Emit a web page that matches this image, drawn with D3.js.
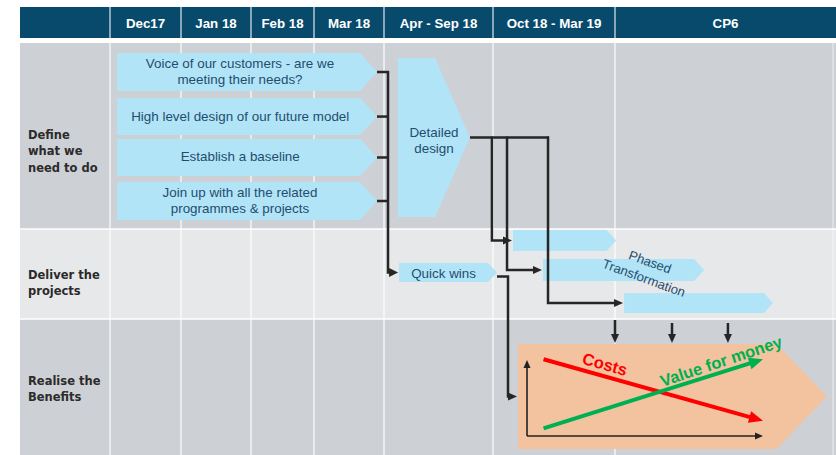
<!DOCTYPE html>
<html><head><meta charset="utf-8">
<script src="https://cdn.jsdelivr.net/npm/d3@7"></script>
<style>body{margin:0;background:#fff}svg{display:block}</style>
</head><body><svg id="c" width="836" height="455"></svg>
<script>
// ---------- data ----------
const columns = ["Dec17", "Jan 18", "Feb 18", "Mar 18", "Apr - Sep 18", "Oct 18 - Mar 19", "CP6"];
const rowLabels = [["Define", "what we", "need to do"], ["Deliver the", "projects"], ["Realise the", "Benefits"]];
// tasks in column units (x) and row units (y)
const defineTasks = [
  {lines: ["Voice of our customers - are we", "meeting their needs?"], start: 0.1, end: 3.9, top: 0.054, bottom: 0.258},
  {lines: ["High level design of our future model"], start: 0.1, end: 3.9, top: 0.296, bottom: 0.495},
  {lines: ["Establish a baseline"], start: 0.1, end: 3.9, top: 0.516, bottom: 0.715},
  {lines: ["Join up with all the related", "programmes & projects"], start: 0.1, end: 3.9, top: 0.747, bottom: 0.952}
];
const designTask = {lines: ["Detailed", "design"], start: 4.128, end: 4.789, top: 0.081, bottom: 0.935};
const quickWins = {lines: ["Quick wins"], start: 4.138, end: 5.033, top: 1.378, bottom: 1.589};
const phasedBars = [
  {start: 5.164, end: 6.005, top: 1.011, bottom: 1.244},
  {start: 5.41, end: 6.403, top: 1.333, bottom: 1.578},
  {start: 6.041, end: 6.715, top: 1.711, bottom: 1.933}
];
const phasedLabel = ["Phased", "Transformation"];
const designBranches = [4.99, 5.115, 5.451];
const quickWinBranch = 5.123;
const benefits = {start: 5.205, end: 6.959, top: 2.184, bottom: 2.956};
const benefitFeeds = [6.0, 6.258, 6.511];
const costsTrend = [[0.7, 10.1], [10, 2.0]];
const valueTrend = [[0.7, 1.0], [10, 10.1]];
const trendLabels = ["Costs", "Value for money"];

// ---------- scales ----------
const W = 836, H = 455;
const svg = d3.select("#c");
const x = d3.scaleLinear().domain(d3.range(columns.length + 1)).range([110, 181, 251, 314, 384, 493, 615, 836]);
const y = d3.scaleLinear().domain([0, 1, 2, 3]).range([43, 229, 319, 455]);
const left = 20;
const headTop = 7, headBot = 38;

const C = {
  head: "#084a6c", row1: "#cdd0d4", row2: "#e7e8ea", row3: "#cdd0d4",
  blue: "#b2e4f8", orange: "#f3c3a0", text: "#1f4d6d", line: "#262626",
  red: "#ff0000", green: "#00b050"
};
const boxFont = "'Liberation Sans', Arial, sans-serif";

// header
svg.append("rect").attr("x", left).attr("y", headTop).attr("width", W - left).attr("height", headBot - headTop).attr("fill", C.head);
svg.selectAll("line.hdiv").data(d3.range(columns.length)).join("line")
  .attr("x1", d => x(d)).attr("x2", d => x(d)).attr("y1", headTop).attr("y2", headBot)
  .attr("stroke", "#dfe8ee").attr("stroke-width", 1.2);
svg.selectAll("text.hd").data(columns).join("text")
  .attr("x", (d, i) => (x(i) + x(i + 1)) / 2).attr("y", (headTop + headBot) / 2 + 1)
  .attr("text-anchor", "middle").attr("dominant-baseline", "central")
  .attr("fill", "#fff").attr("font-family", boxFont).attr("font-weight", "bold").attr("font-size", 13.3)
  .text(d => d);

// rows
const rowColors = [C.row1, C.row2, C.row3];
rowLabels.forEach((lab, i) => {
  svg.append("rect").attr("x", left).attr("y", y(i)).attr("width", W - left).attr("height", y(i + 1) - y(i)).attr("fill", rowColors[i]);
});
// grid lines
svg.selectAll("line.vdiv").data(d3.range(columns.length)).join("line")
  .attr("x1", d => x(d)).attr("x2", d => x(d)).attr("y1", y(0)).attr("y2", H)
  .attr("stroke", "#fff").attr("stroke-width", 1.3).attr("opacity", 0.9);
svg.append("line").attr("x1", 833).attr("x2", 833).attr("y1", y(0)).attr("y2", H).attr("stroke", "#fff").attr("stroke-width", 1).attr("opacity", 0.7);
[1, 2].forEach(i => svg.append("line").attr("x1", left).attr("x2", W).attr("y1", y(i)).attr("y2", y(i)).attr("stroke", "#fff").attr("stroke-width", 1.6));

// row labels
const labelShift = [15, 9, 2];
rowLabels.forEach((lab, i) => {
  const cy = (y(i) + y(i + 1)) / 2 + labelShift[i];
  const lh = 16.5;
  const t = svg.append("text").attr("font-family", "'DejaVu Sans', Verdana, sans-serif").attr("font-weight", "bold")
    .attr("font-size", 11.5).attr("fill", "#2b2b2b");
  lab.forEach((l, j) => {
    t.append("tspan").attr("x", 28).attr("y", cy + (j - (lab.length - 1) / 2) * lh).attr("dominant-baseline", "central").text(l);
  });
});

// pentagon helper
function pent(d, fill, tipRatio) {
  const x0 = x(d.start), x1 = x(d.end), y0 = y(d.top), y1 = y(d.bottom), ym = (y0 + y1) / 2;
  const tip = (y1 - y0) * tipRatio;
  const p = [[x0, y0], [x1 - tip, y0], [x1, ym], [x1 - tip, y1], [x0, y1]];
  svg.append("path").attr("d", "M" + p.map(q => q.join(",")).join("L") + "Z").attr("fill", fill);
  return {x0, x1, y0, y1, ym, tip};
}
function boxText(lines, cx, cy, size, lh) {
  const t = svg.append("text").attr("font-family", boxFont).attr("font-size", size).attr("fill", C.text).attr("text-anchor", "middle");
  lines.forEach((l, j) => t.append("tspan").attr("x", cx).attr("y", cy + (j - (lines.length - 1) / 2) * lh).attr("dominant-baseline", "central").text(l));
}
function poly(pts, color, width) {
  svg.append("path").attr("d", d3.line()(pts)).attr("fill", "none").attr("stroke", color).attr("stroke-width", width).attr("stroke-linejoin", "miter");
}
function arrow(pts, color, width, head, headW) {
  const n = pts.length;
  const [x1, y1] = pts[n - 2], [x2, y2] = pts[n - 1];
  const dx = x2 - x1, dy = y2 - y1, L = Math.hypot(dx, dy), ux = dx / L, uy = dy / L;
  const cut = head * 0.7;
  poly(pts.slice(0, n - 1).concat([[x2 - ux * cut, y2 - uy * cut]]), color, width);
  const bx = x2 - ux * head, by = y2 - uy * head, px = -uy, py = ux;
  svg.append("path").attr("d", `M${x2},${y2}L${bx + px * headW / 2},${by + py * headW / 2}L${bx - px * headW / 2},${by - py * headW / 2}Z`).attr("fill", color);
}

// define tasks
const dBoxes = defineTasks.map(d => {
  const b = pent(d, C.blue, 0.45);
  boxText(d.lines, (b.x0 + b.x1 - b.tip) / 2 + 1.5, b.ym - 0.5, 13.4, 16.5);
  return b;
});
const des = pent(designTask, C.blue, 0.22);
boxText(designTask.lines, (des.x0 + des.x1) / 2, des.ym + 3, 13.4, 16.5);
const qw = pent(quickWins, C.blue, 0.47);
boxText(quickWins.lines, (qw.x0 + qw.x1 - qw.tip) / 2, qw.ym + 0.5, 13.4, 16);
const pBoxes = phasedBars.map(d => pent(d, C.blue, 0.45));
const ben = pent(benefits, C.orange, 0.48);

// phased label (rotated)
const phT = svg.append("g").attr("font-family", boxFont).attr("font-size", 13).attr("fill", C.text).attr("text-anchor", "middle");
phT.append("text").attr("transform", "translate(650,262) rotate(20)").attr("dominant-baseline", "central").text(phasedLabel[0]);
phT.append("text").attr("transform", "translate(644,278) rotate(20)").attr("dominant-baseline", "central").text(phasedLabel[1]);

// bracket from define tasks
const bx = dBoxes[0].x1 + 11;
dBoxes.forEach(b => poly([[b.x1, b.ym], [bx + 1, b.ym]], C.line, 2.5));
arrow([[bx, dBoxes[0].ym - 1], [bx, qw.ym], [qw.x0 - 1, qw.ym]], C.line, 2.5, 9, 9);

// branches from detailed design
const brEnd = x(designBranches[designBranches.length - 1]);
poly([[des.x1, des.ym], [brEnd + 1, des.ym]], C.line, 2.5);
designBranches.forEach((b, i) => {
  arrow([[x(b), des.ym - 1], [x(b), pBoxes[i].ym], [pBoxes[i].x0 - 1, pBoxes[i].ym]], C.line, 2.5, 9, 8);
});

// quick wins to benefits
const qx = x(quickWinBranch);
arrow([[qw.x1, qw.ym + 4], [qx, qw.ym + 4], [qx, ben.ym], [ben.x0 - 1, ben.ym]], C.line, 2.5, 9, 8);

// feeds into benefits
benefitFeeds.forEach((f, i) => arrow([[x(f), y(2) + (i === 0 ? 1 : 4)], [x(f), ben.y0 - 1]], C.line, 2.5, 9, 8));

// inner chart
const ix = d3.scaleLinear().domain([0, 10]).range([ben.x0 + 9, ben.x0 + 245]);
const iy = d3.scaleLinear().domain([0, 10]).range([ben.y1 - 13, ben.y0 + 16]);
arrow([[ix(0), iy(0)], [ix(0), iy(10)]], "#222", 1.6, 8, 7);
arrow([[ix(0), iy(0)], [ix(10), iy(0)]], "#222", 1.6, 8, 7);
arrow(costsTrend.map(p => [ix(p[0]), iy(p[1])]), C.red, 4, 14, 12);
arrow(valueTrend.map(p => [ix(p[0]), iy(p[1])]), C.green, 4, 14, 12);
svg.append("text").attr("transform", "translate(605,364) rotate(16)").attr("text-anchor", "middle").attr("dominant-baseline", "central")
  .attr("font-family", boxFont).attr("font-weight", "bold").attr("font-size", 16.5).attr("fill", C.red).text(trendLabels[0]);
svg.append("text").attr("transform", "translate(721,361) rotate(-18.5)").attr("text-anchor", "middle").attr("dominant-baseline", "central")
  .attr("font-family", boxFont).attr("font-weight", "bold").attr("font-size", 16.5).attr("fill", C.green).text(trendLabels[1]);
</script></body></html>
